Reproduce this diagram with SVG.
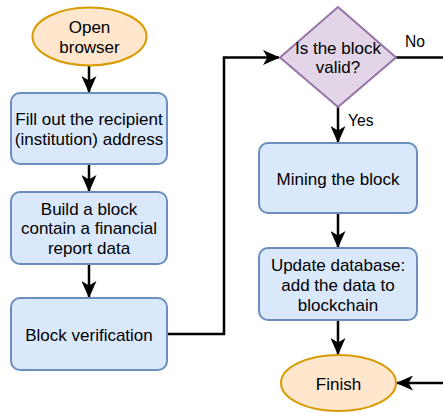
<svg xmlns="http://www.w3.org/2000/svg" width="443" height="412" viewBox="0 0 443 412">
<style>
.box{fill:#dae8fc;stroke:#6c8ebf;stroke-width:2}
.term{fill:#ffe6cc;stroke:#d79b00;stroke-width:2}
.dec{fill:#e1d5e7;stroke:#9673a6;stroke-width:2}
text{font-family:"Liberation Sans",Arial,Helvetica,sans-serif;font-size:17px;fill:#000;text-anchor:middle}
.lbl{font-size:15.6px;text-anchor:start}
.edge{fill:none;stroke:#000;stroke-width:2.5;marker-end:url(#arr)}
</style>
<defs>
<marker id="arr" markerUnits="userSpaceOnUse" viewBox="0 0 17 15" refX="16" refY="7.5" markerWidth="17" markerHeight="15" orient="auto">
<path d="M0,0 L17,7.5 L0,15 L4.5,7.5 Z" fill="#000"/>
</marker>
</defs>
<rect width="443" height="412" fill="#fff"/>
<g id="connectors">
<path class="edge" d="M89,65 V92"/>
<path class="edge" d="M89,164 V191"/>
<path class="edge" d="M89,264 V297"/>
<path class="edge" d="M167,334 H224 V57.5 H279"/>
<path class="edge" d="M338,107 V142"/>
<path class="edge" d="M338,213 V247"/>
<path class="edge" d="M338,320 V354"/>
<path class="edge" d="M396,57.5 H447 V383 H397"/>
<text class="lbl" x="405" y="47">No</text>
<text class="lbl" x="348" y="126">Yes</text>
</g>
<g id="open-browser">
<ellipse class="term" cx="89.5" cy="36.5" rx="57" ry="29"/>
<text x="89.5" y="33">Open</text>
<text x="89.5" y="52.5">browser</text>
</g>
<g id="fill-out">
<rect class="box" x="11" y="93" width="156" height="71" rx="9"/>
<text x="89" y="125">Fill out the recipient</text>
<text x="89" y="144.5">(institution) address</text>
</g>
<g id="build-block">
<rect class="box" x="11" y="192" width="156" height="72" rx="9"/>
<text x="89" y="214.5">Build a block</text>
<text x="89" y="234">contain a financial</text>
<text x="89" y="253.5">report data</text>
</g>
<g id="block-verification">
<rect class="box" x="11" y="298" width="156" height="72" rx="9"/>
<text x="89" y="340.5">Block verification</text>
</g>
<g id="is-valid">
<polygon class="dec" points="338,7 396,57.5 338,107 280,57.5"/>
<text x="338" y="54">Is the block</text>
<text x="338" y="73">valid?</text>
</g>
<g id="mining">
<rect class="box" x="259" y="143" width="158" height="70" rx="9"/>
<text x="338" y="184.5">Mining the block</text>
</g>
<g id="update-db">
<rect class="box" x="259" y="248" width="158" height="72" rx="9"/>
<text x="338" y="271">Update database:</text>
<text x="338" y="290.5">add the data to</text>
<text x="338" y="310.5">blockchain</text>
</g>
<g id="finish">
<ellipse class="term" cx="338.5" cy="383" rx="57.5" ry="28"/>
<text x="338.5" y="389.5">Finish</text>
</g>
</svg>
